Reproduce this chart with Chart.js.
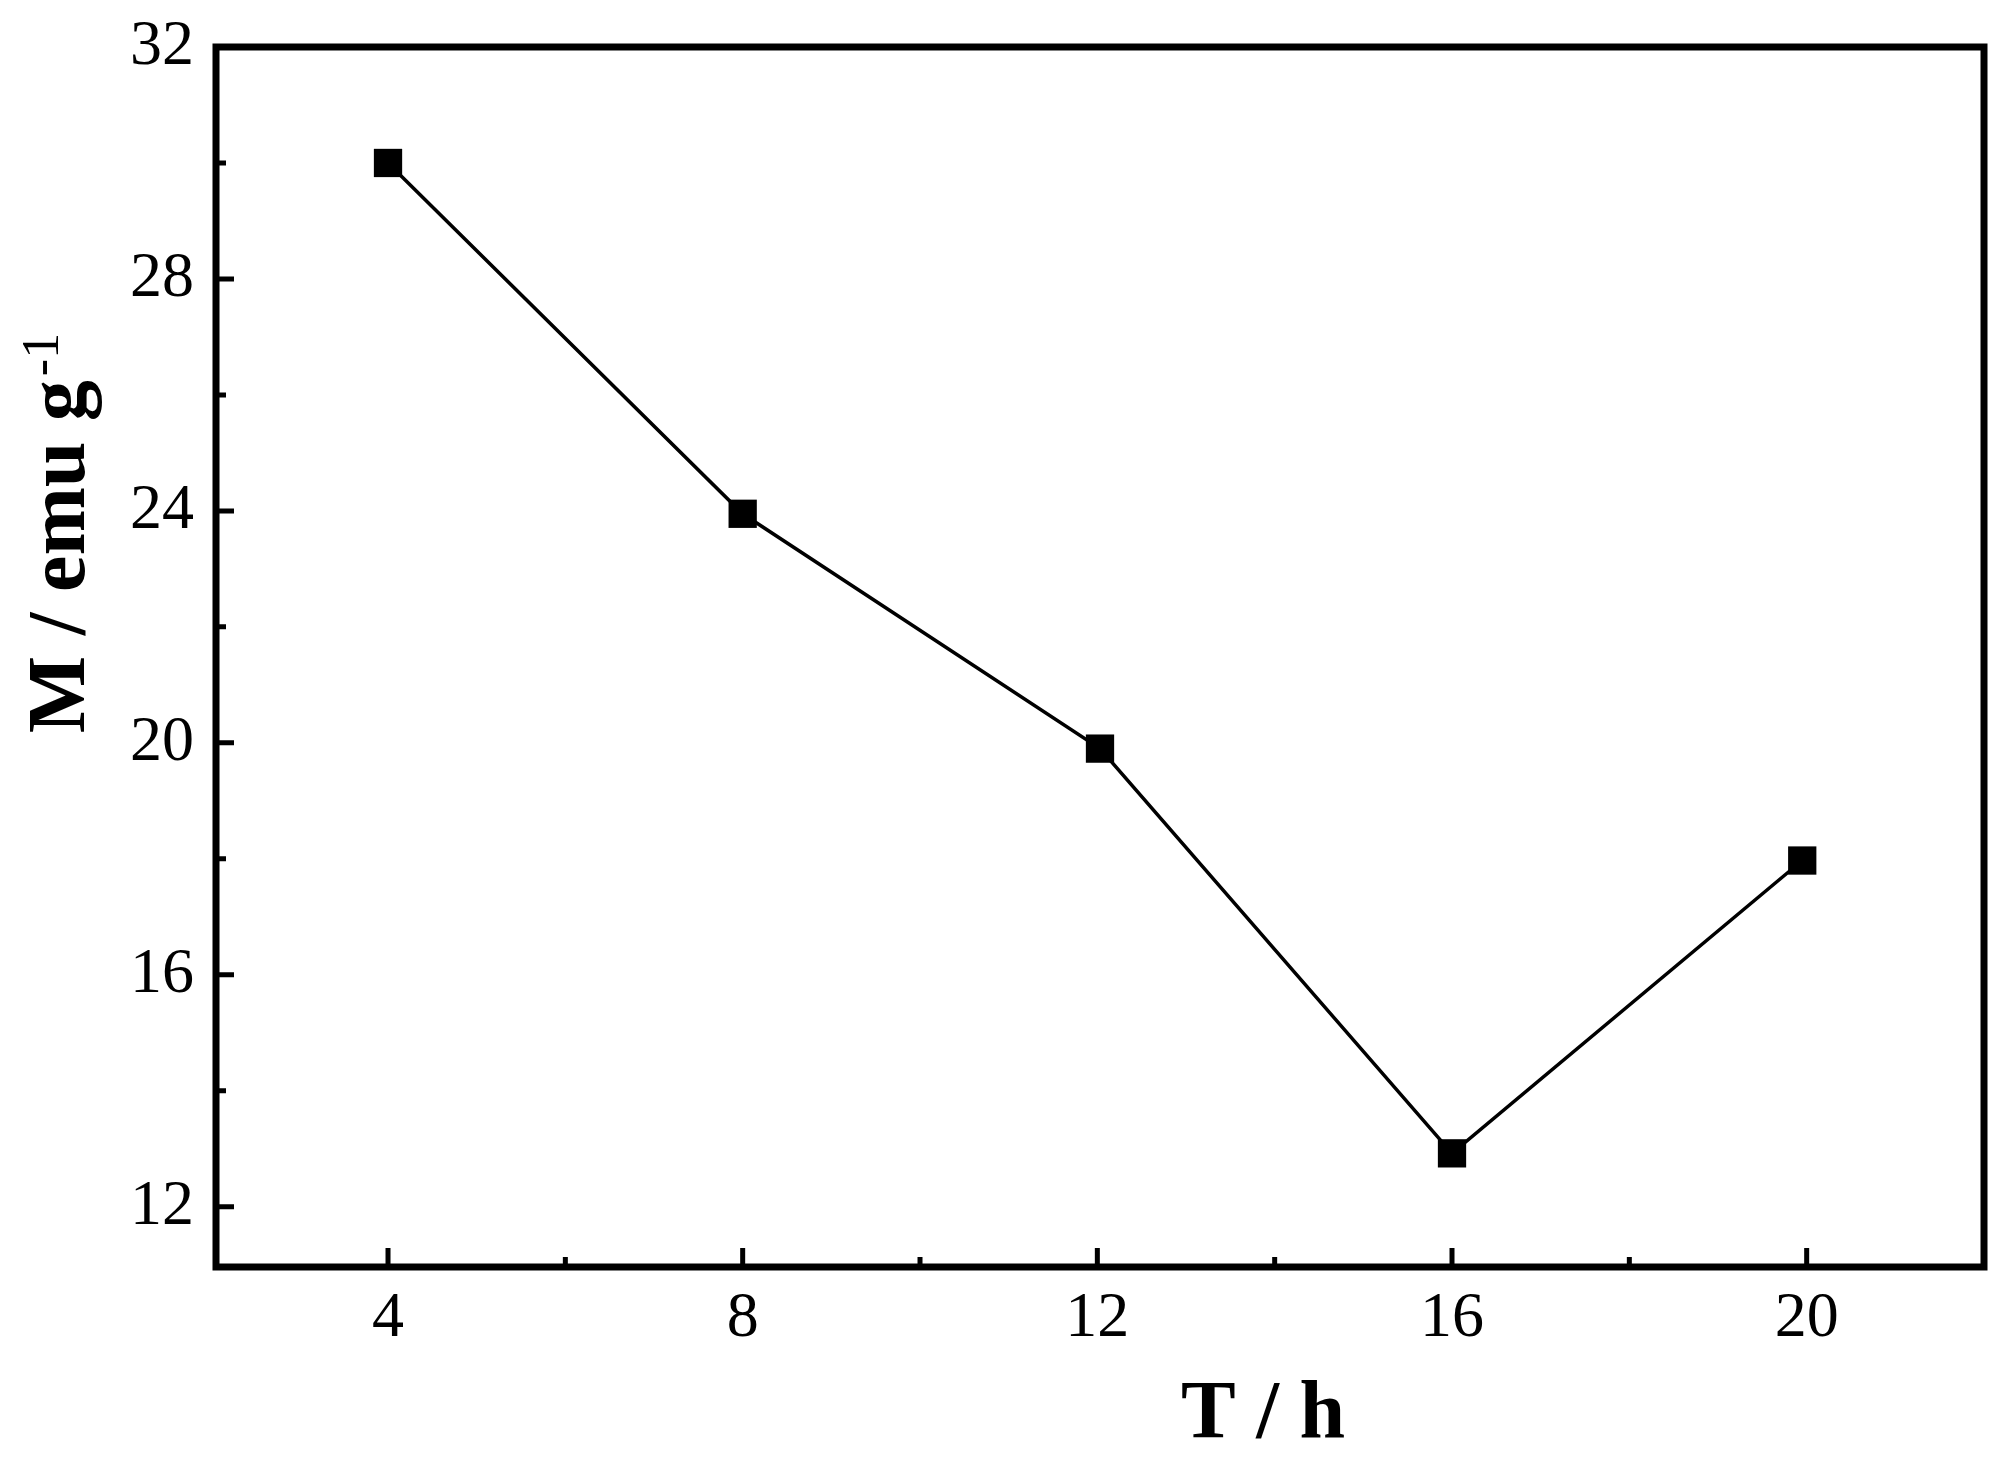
<!DOCTYPE html>
<html>
<head>
<meta charset="utf-8">
<title>M vs T</title>
<script src="https://cdn.jsdelivr.net/npm/chart.js@4.4.1/dist/chart.umd.min.js"></script>
<style>
  html, body { margin: 0; padding: 0; background: #fff; }
  #wrap { width: 1992px; height: 1478px; }
</style>
</head>
<body>
<div id="wrap"><canvas id="magChart" width="1992" height="1478"></canvas></div>
<script>
// hours of reaction
const timeHours = [4, 8, 12.03, 16, 19.95];
// magnetization, emu/g
const magnetization = [30.0, 23.95, 19.9, 12.92, 17.97];

const xTicks = [4, 8, 12, 16, 20];
const xMinorTicks = [6, 10, 14, 18];
const yTicks = [12, 16, 20, 24, 28, 32];
const yMinorTicks = [14, 18, 22, 26, 30];

const SERIF = "'Liberation Serif', 'Times New Roman', serif";

// frame, inward ticks and the two axis titles
const framePlugin = {
  id: "frame",
  afterDraw(chart) {
    const { ctx, chartArea: a, scales } = chart;
    const x = scales.x;
    const y = scales.y;

    ctx.save();
    ctx.strokeStyle = "#000";
    ctx.lineWidth = 7;
    ctx.lineJoin = "miter";
    ctx.strokeRect(a.left, a.top, a.right - a.left, a.bottom - a.top);

    ctx.lineWidth = 5;
    ctx.beginPath();
    xTicks.forEach((v) => {
      const px = x.getPixelForValue(v);
      ctx.moveTo(px, a.bottom);
      ctx.lineTo(px, a.bottom - 19);
    });
    xMinorTicks.forEach((v) => {
      const px = x.getPixelForValue(v);
      ctx.moveTo(px, a.bottom);
      ctx.lineTo(px, a.bottom - 10);
    });
    yTicks.forEach((v) => {
      const py = y.getPixelForValue(v);
      ctx.moveTo(a.left, py);
      ctx.lineTo(a.left + 18, py);
    });
    yMinorTicks.forEach((v) => {
      const py = y.getPixelForValue(v);
      ctx.moveTo(a.left, py);
      ctx.lineTo(a.left + 10, py);
    });
    ctx.stroke();

    ctx.fillStyle = "#000";

    // x title
    ctx.font = "bold 82px " + SERIF;
    ctx.textAlign = "center";
    ctx.textBaseline = "alphabetic";
    ctx.fillText("T / h", 1263, 1437);

    // y title with superscript
    ctx.translate(84, 533);
    ctx.rotate(-Math.PI / 2);
    const main = "M / emu g";
    const sup = "-1";
    ctx.font = "bold 82px " + SERIF;
    const wMain = ctx.measureText(main).width;
    ctx.font = "52px " + SERIF;
    const wSup = ctx.measureText(sup).width;
    const start = -(wMain + wSup + 4) / 2;
    ctx.textAlign = "left";
    ctx.font = "bold 82px " + SERIF;
    ctx.fillText(main, start, 0);
    ctx.font = "52px " + SERIF;
    ctx.fillText(sup, start + wMain + 4, -26);
    ctx.restore();
  },
};

const ctx = document.getElementById("magChart").getContext("2d");

new Chart(ctx, {
  type: "line",
  data: {
    datasets: [
      {
        label: "M",
        data: timeHours.map((t, i) => ({ x: t, y: magnetization[i] })),
        borderColor: "#000",
        backgroundColor: "#000",
        borderWidth: 3.5,
        pointStyle: "rect",
        pointRadius: 20,
        pointHoverRadius: 20,
        pointBorderWidth: 0,
        tension: 0,
      },
    ],
  },
  options: {
    responsive: false,
    animation: false,
    events: [],
    layout: {
      autoPadding: false,
      padding: { left: 0, right: 8, top: 47, bottom: 0 },
    },
    plugins: {
      legend: { display: false },
      tooltip: { enabled: false },
    },
    scales: {
      x: {
        type: "linear",
        min: 2.06,
        max: 22.0,
        grid: { display: false, drawTicks: false },
        border: { display: false },
        afterBuildTicks: (scale) => {
          scale.ticks = xTicks.map((v) => ({ value: v }));
        },
        afterFit: (scale) => {
          scale.height = 211;
          scale.paddingLeft = 0;
          scale.paddingRight = 0;
        },
        ticks: {
          padding: 14,
          color: "#000",
          font: { family: SERIF, size: 64 },
        },
      },
      y: {
        type: "linear",
        min: 10.96,
        max: 32,
        grid: { display: false, drawTicks: false },
        border: { display: false },
        afterBuildTicks: (scale) => {
          scale.ticks = yTicks.map((v) => ({ value: v }));
        },
        afterFit: (scale) => {
          scale.width = 216;
          scale.paddingTop = 0;
          scale.paddingBottom = 0;
        },
        ticks: {
          padding: 22,
          color: "#000",
          font: { family: SERIF, size: 64 },
        },
      },
    },
  },
  plugins: [framePlugin],
});
</script>
</body>
</html>
